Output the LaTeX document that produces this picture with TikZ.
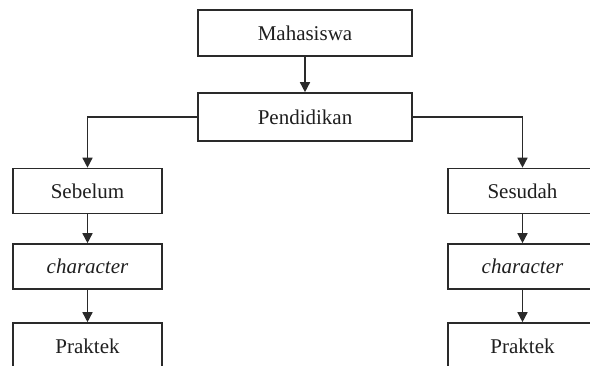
\documentclass[tikz,border=0pt]{standalone}
\usepackage{fontspec}
\setmainfont{Liberation Serif}
\usetikzlibrary{arrows.meta}
\definecolor{ln}{HTML}{2A2A2A}
\begin{document}
\begin{tikzpicture}[x=1pt,y=-1pt,
  box/.style={draw=ln,line width=1.6pt,fill=white,inner sep=0pt,
    font=\fontsize{21}{25}\selectfont,text=black!88},
  wbox/.style={box,minimum width=214pt},
  sbox/.style={box,minimum width=149pt},
  arr/.style={draw=ln,line width=1.5pt,-{Triangle[width=10pt,length=10pt]}}]
\useasboundingbox (0,0) rectangle (590,366);
\clip (0,0) rectangle (590,366);
\node[wbox,minimum height=46pt] (maha) at (305,33) {Mahasiswa};
\node[wbox,minimum height=48pt] (pend) at (305,117) {Pendidikan};
\node[sbox,minimum height=45pt] (seb) at (87.5,191) {Sebelum};
\node[sbox,minimum height=45pt] (chl) at (87.5,266.5) {\itshape character};
\node[sbox,minimum height=46pt] (prl) at (87.5,346) {Praktek};
\node[sbox,minimum height=45pt] (ses) at (522.5,191) {Sesudah};
\node[sbox,minimum height=45pt] (chr) at (522.5,266.5) {\itshape character};
\node[sbox,minimum height=46pt] (prr) at (522.5,346) {Praktek};
\draw[arr] (maha.south) -- (pend.north);
\draw[arr] (pend.west) -| (seb.north);
\draw[arr] (pend.east) -| (ses.north);
\draw[arr] (seb.south) -- (chl.north);
\draw[arr] (chl.south) -- (prl.north);
\draw[arr] (ses.south) -- (chr.north);
\draw[arr] (chr.south) -- (prr.north);
\end{tikzpicture}
\end{document}
